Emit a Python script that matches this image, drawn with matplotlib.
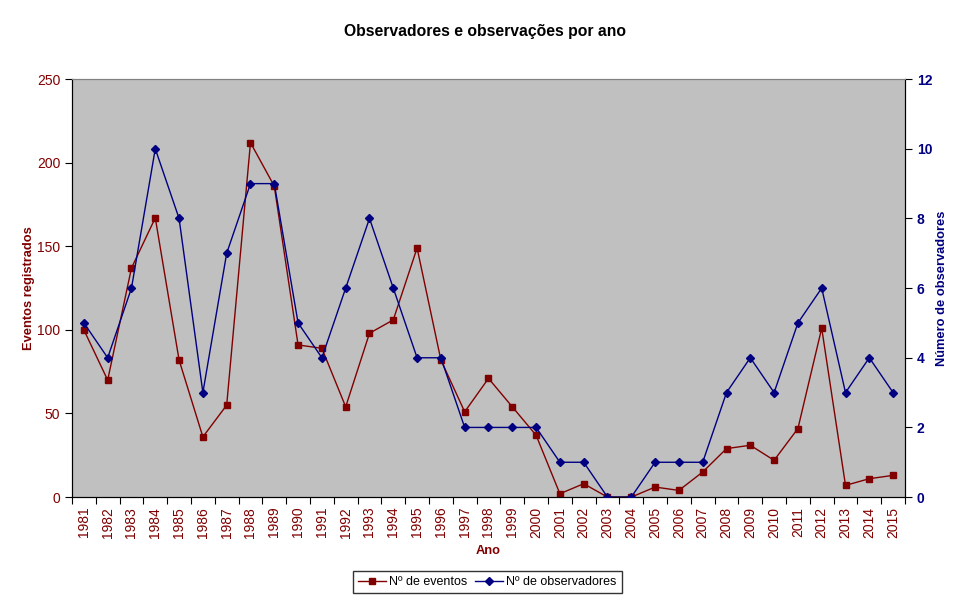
import matplotlib.pyplot as plt
import numpy as np

plt.rcParams['font.family'] = ['Liberation Sans', 'DejaVu Sans']

anos = [str(a) for a in range(1981, 2016)]
eventos = [100, 70, 137, 167, 82, 36, 55, 212, 186, 91,
           89, 54, 98, 106, 149, 82, 51, 71, 54, 37,
           2, 8, 0, 0, 6, 4, 15, 29, 31, 22,
           41, 101, 7, 11, 13]
observadores = [5, 4, 6, 10, 8, 3, 7, 9, 9, 5,
                4, 6, 8, 6, 4, 4, 2, 2, 2, 2,
                1, 1, 0, 0, 1, 1, 1, 3, 4, 3,
                5, 6, 3, 4, 3]

vermelho = '#800000'
azul = '#000080'

fig = plt.figure(figsize=(9.7, 6.04), dpi=100)
ax = fig.add_axes([0.0742, 0.177, 0.8588, 0.692])
ax.set_facecolor('#c0c0c0')

x = np.arange(len(anos)) + 0.5
l1, = ax.plot(x, eventos, color=vermelho, lw=1, marker='s', ms=5,
              label='Nº de eventos', zorder=3)
ax.set_xlim(0, len(anos))
ax.set_ylim(0, 250)
ax.set_yticks(range(0, 251, 50))
ax.tick_params(axis='y', colors='black', labelcolor=vermelho, labelsize=10, direction='out', length=5)
ax.set_ylabel('Eventos registrados', color=vermelho, fontweight='bold', fontsize=9.3, labelpad=1)

# ticks nas fronteiras das categorias, rótulos no centro
ax.set_xticks(np.arange(len(anos) + 1))
ax.set_xticklabels([])
ax.set_xticks(x, minor=True)
ax.set_xticklabels(anos, minor=True, rotation=90, fontsize=10, color=vermelho)
ax.tick_params(axis='x', which='minor', length=0, pad=7)
ax.tick_params(axis='x', which='major', length=5, direction='out')
ax.set_xlabel('Ano', color=vermelho, fontweight='bold', fontsize=9.3, labelpad=5)

ax2 = ax.twinx()
l2, = ax2.plot(x, observadores, color=azul, lw=1, marker='D', ms=4,
               label='Nº de observadores', zorder=3)
ax2.set_ylim(0, 12)
ax2.set_yticks(range(0, 13, 2))
ax2.tick_params(axis='y', colors='black', labelcolor=azul, labelsize=10, direction='out', length=5)
for t in ax2.get_yticklabels():
    t.set_fontweight('bold')
ax2.set_ylabel('Número de observadores', color=azul, fontweight='bold', fontsize=9.3, labelpad=3)

for a in (ax, ax2):
    a.spines['top'].set_color('#808080')
    a.spines['left'].set_color('black')
    a.spines['right'].set_color('black')
    a.spines['bottom'].set_color('black')

fig.suptitle('Observadores e observações por ano', y=0.96, fontsize=11.3, fontweight='bold')

leg = fig.legend(handles=[l1, l2], loc='center', bbox_to_anchor=(0.5026, 0.036),
                 ncol=2, fontsize=9, frameon=True, fancybox=False, edgecolor='black',
                 handlelength=2.2, handletextpad=0.3, columnspacing=0.6, borderpad=0.4)
leg.get_frame().set_linewidth(1)

fig.savefig('out.png', dpi=100)
